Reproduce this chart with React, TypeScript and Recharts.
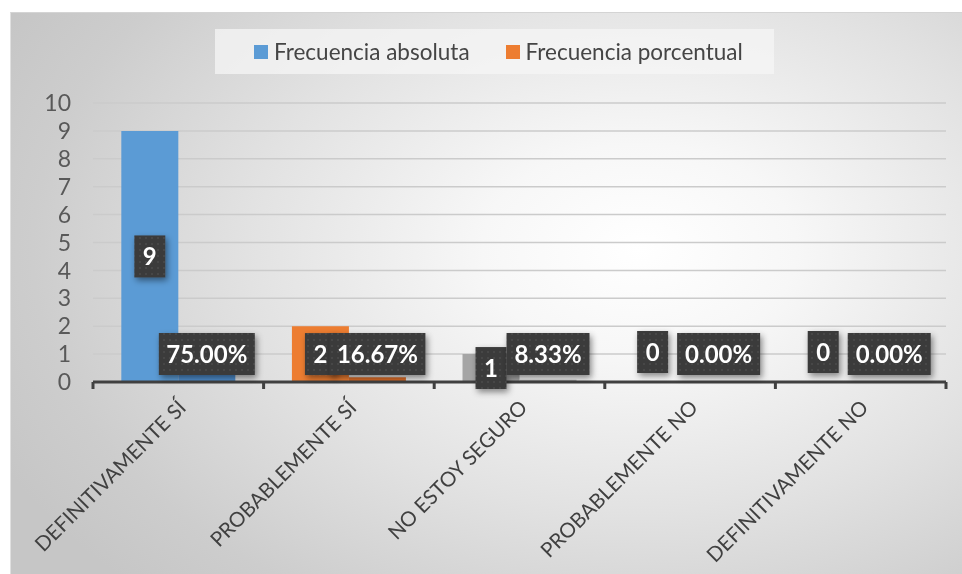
import React from "react";
import { BarChart, Bar, XAxis, YAxis, CartesianGrid, Cell, LabelList } from "recharts";

const categories = [
  "DEFINITIVAMENTE SÍ",
  "PROBABLEMENTE SÍ",
  "NO ESTOY SEGURO",
  "PROBABLEMENTE NO",
  "DEFINITIVAMENTE NO",
];
const absoluta = [9, 2, 1, 0, 0];
const porcentual = [0.75, 0.1667, 0.0833, 0, 0];
const yTicks = [0, 1, 2, 3, 4, 5, 6, 7, 8, 9, 10];

const seriesNames = ["Frecuencia absoluta", "Frecuencia porcentual"];
const legendColors = ["#5b9bd5", "#ed7d31"];
const absColors = ["#5b9bd5", "#ed7d31", "#a5a5a5", "#ffc000", "#4472c4"];
const pctColors = ["#4e8ccb", "#d96c28", "#b3b3b3", "#e6ad00", "#3c66b0"];

const data = categories.map((c, i) => ({
  category: c,
  absoluta: absoluta[i],
  porcentual: porcentual[i],
}));

const W = 952;
const H = 562;
const MARGIN = { top: 90, right: 17, bottom: 0, left: 32 };
const Y_WIDTH = 50;
const BAND = (W - MARGIN.left - MARGIN.right - Y_WIDTH) / categories.length;
const FONT = "Lato, 'Noto Sans', sans-serif";

function labelBox(cx: number, cy: number, text: string) {
  const w = text.length * 13 + 18;
  return (
    <g filter="url(#lblShadow)">
      <rect x={cx - w / 2} y={cy - 21} width={w} height={42} fill="url(#dots)" />
      <text
        x={cx}
        y={cy}
        dy="0.36em"
        textAnchor="middle"
        fill="#ffffff"
        fontFamily={FONT}
        fontWeight={700}
        fontSize={24}
      >
        {text}
      </text>
    </g>
  );
}

const AbsLabel = (props: any) => {
  const { x, y, width, height, value } = props;
  const base = Math.max(y, y + height);
  if (value > 0) return labelBox(x + width / 2, y + height / 2, String(value));
  return labelBox(x + width / 2 - 9, base - 30, String(value));
};

const PctLabel = (props: any) => {
  const { x, y, width, height, value } = props;
  const base = Math.max(y, y + height);
  return labelBox(x + width / 2, base - 28, (value * 100).toFixed(2) + "%");
};

const CategoryTick = (props: any) => {
  const { x, y, payload, index } = props;
  const last = index === categories.length - 1;
  const tx = x + 9;
  const ty = y + 27;
  return (
    <g>
      <line x1={x - BAND / 2} x2={x - BAND / 2} y1={y} y2={y + 7} stroke="#404040" strokeWidth={3} />
      {last && (
        <line x1={x + BAND / 2} x2={x + BAND / 2} y1={y} y2={y + 7} stroke="#404040" strokeWidth={3} />
      )}
      <text
        x={tx}
        y={ty}
        transform={`rotate(-45 ${tx} ${ty})`}
        textAnchor="end"
        fill="#404040"
        fontFamily={FONT}
        fontSize={20.5}
      >
        {payload.value}
      </text>
    </g>
  );
};

export default function App() {
  return (
    <div
      style={{
        position: "fixed",
        left: 10,
        top: 12,
        width: W,
        height: H,
        borderTop: "1.5px solid #d4d4d4",
        borderLeft: "1px solid #e0e0e0",
        background:
          "radial-gradient(ellipse 75% 85% at 66% 42%, #ffffff 0%, #f7f7f7 22%, #e2e2e2 55%, #cdcdcd 85%, #c6c6c6 100%)",
        overflow: "hidden",
      }}
    >
      <div
        style={{
          position: "absolute",
          left: 204,
          top: 16,
          width: 559,
          height: 45,
          background: "rgba(245,245,245,0.75)",
          display: "flex",
          alignItems: "center",
          paddingLeft: 39,
          boxSizing: "border-box",
          gap: 36,
          fontFamily: FONT,
          fontSize: 22.5,
          color: "#454545",
        }}
      >
        {seriesNames.map((n, i) => (
          <div key={n} style={{ display: "flex", alignItems: "center" }}>
            <span style={{ width: 14, height: 14, background: legendColors[i], marginRight: 6 }} />
            <span>{n}</span>
          </div>
        ))}
      </div>
      <BarChart
        width={W}
        height={H}
        data={data}
        margin={MARGIN}
        barCategoryGap="16.6%"
        barGap={0}
        style={{ position: "absolute", left: 0, top: 0 }}
      >
        <defs>
          <pattern id="dots" width="6" height="6" patternUnits="userSpaceOnUse">
            <rect width="6" height="6" fill="#3b3b3b" />
            <circle cx="3" cy="3" r="0.8" fill="#565656" />
          </pattern>
          <filter id="lblShadow" x="-30%" y="-30%" width="160%" height="170%">
            <feDropShadow dx="2" dy="3" stdDeviation="3" floodColor="#000" floodOpacity="0.45" />
          </filter>
        </defs>
        <CartesianGrid vertical={false} stroke="#cbcbcb" strokeWidth={1.5} />
        <XAxis
          dataKey="category"
          height={193}
          interval={0}
          tickSize={0}
          tickMargin={0}
          tickLine={false}
          axisLine={{ stroke: "#404040", strokeWidth: 3 }}
          tick={<CategoryTick />}
        />
        <YAxis
          width={Y_WIDTH}
          domain={[0, 10]}
          ticks={yTicks}
          interval={0}
          axisLine={false}
          tickLine={false}
          tickSize={6}
          tickMargin={16}
          tick={{ fill: "#595959", fontSize: 23, fontFamily: FONT }}
        />
        <Bar dataKey="absoluta" name={seriesNames[0]} minPointSize={1} isAnimationActive={false}>
          {data.map((d, i) => (
            <Cell key={d.category} fill={d.absoluta === 0 ? "transparent" : absColors[i]} />
          ))}
          <LabelList dataKey="absoluta" content={<AbsLabel />} />
        </Bar>
        <Bar dataKey="porcentual" name={seriesNames[1]} minPointSize={1} isAnimationActive={false}>
          {data.map((d, i) => (
            <Cell key={d.category} fill={d.porcentual === 0 ? "transparent" : pctColors[i]} />
          ))}
          <LabelList dataKey="porcentual" content={<PctLabel />} />
        </Bar>
      </BarChart>
    </div>
  );
}
